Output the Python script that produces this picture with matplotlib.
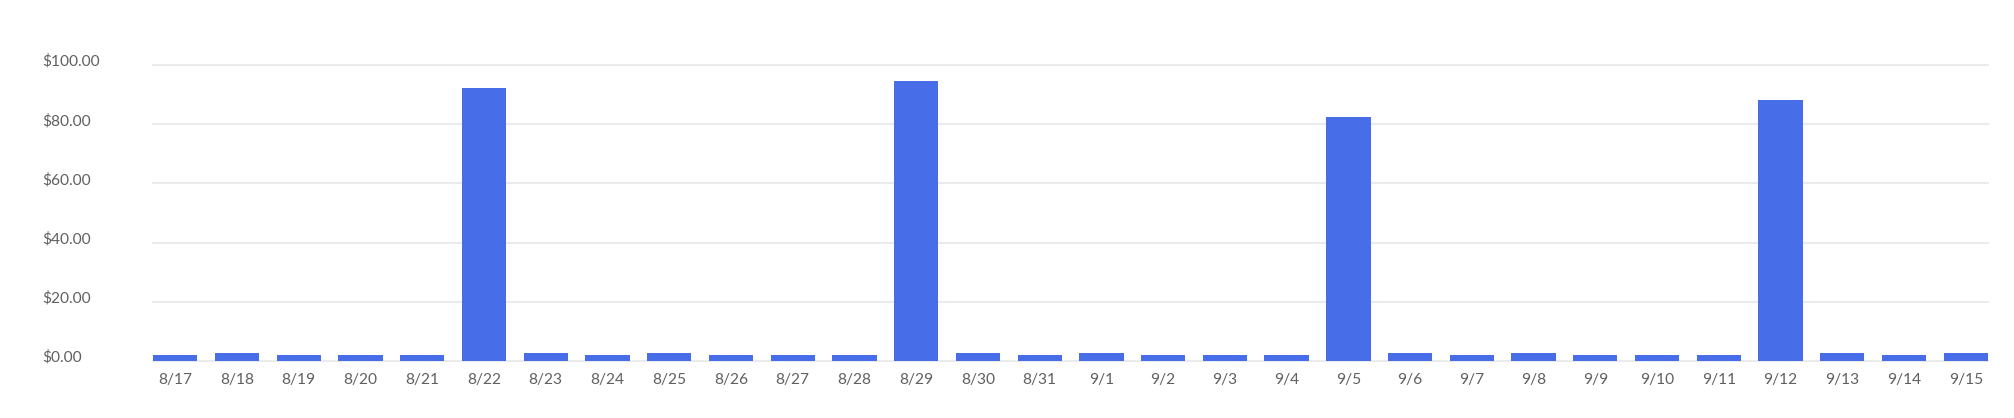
import matplotlib
matplotlib.use("Agg")
import matplotlib.pyplot as plt
from matplotlib.transforms import ScaledTranslation
import numpy as np

dates = ["8/17", "8/18", "8/19", "8/20", "8/21", "8/22", "8/23", "8/24", "8/25", "8/26",
         "8/27", "8/28", "8/29", "8/30", "8/31", "9/1", "9/2", "9/3", "9/4", "9/5",
         "9/6", "9/7", "9/8", "9/9", "9/10", "9/11", "9/12", "9/13", "9/14", "9/15"]
amounts = [2.0, 2.5, 2.0, 2.0, 2.0, 92.4, 2.5, 2.0, 2.5, 2.0,
           2.0, 2.0, 94.8, 2.5, 2.0, 2.5, 2.0, 2.0, 2.0, 82.4,
           2.5, 2.0, 2.5, 2.0, 2.0, 2.0, 88.1, 2.5, 2.0, 2.5]
y_ticks = [0, 20, 40, 60, 80, 100]
y_labels = ["$0.00", "$20.00", "$40.00", "$60.00", "$80.00", "$100.00"]

plt.rcParams['font.family'] = ['Lato', 'DejaVu Sans']

W, H, DPI = 2014, 418, 100
fig = plt.figure(figsize=(W / DPI, H / DPI), dpi=DPI)
left_px, right_px = 153.15, 1987.9
bottom_px, top_px = 360.8, 65.2
ax = fig.add_axes([left_px / W, (H - bottom_px) / H,
                   (right_px - left_px) / W, (bottom_px - top_px) / H])

bw = 0.7175
x = np.arange(len(dates))
ax.bar(x, amounts, width=bw, color="#486de8", zorder=3)
ax.set_xlim(-bw / 2, len(dates) - 1 + bw / 2)
ax.set_ylim(0, 100)

ax.set_yticks(y_ticks)
ax.set_yticklabels(y_labels)
ax.set_xticks(x)
ax.set_xticklabels(dates)

for s in ax.spines.values():
    s.set_visible(False)

ax.yaxis.grid(True, color="#ebebeb", linewidth=1.5, zorder=0)
ax.set_axisbelow(True)
for gl in ax.get_ygridlines():
    gl.set_clip_on(False)

ax.tick_params(axis='both', length=0, labelsize=11.2, labelcolor="#606060")
ax.tick_params(axis='y', pad=(left_px - 42) * 72 / DPI)
ax.tick_params(axis='x', pad=9.0)
off = ScaledTranslation(0, 5 / DPI, fig.dpi_scale_trans)
for lab in ax.get_yticklabels():
    lab.set_horizontalalignment('left')
    lab.set_transform(lab.get_transform() + off)

fig.savefig("out.png", dpi=DPI, facecolor="white")
